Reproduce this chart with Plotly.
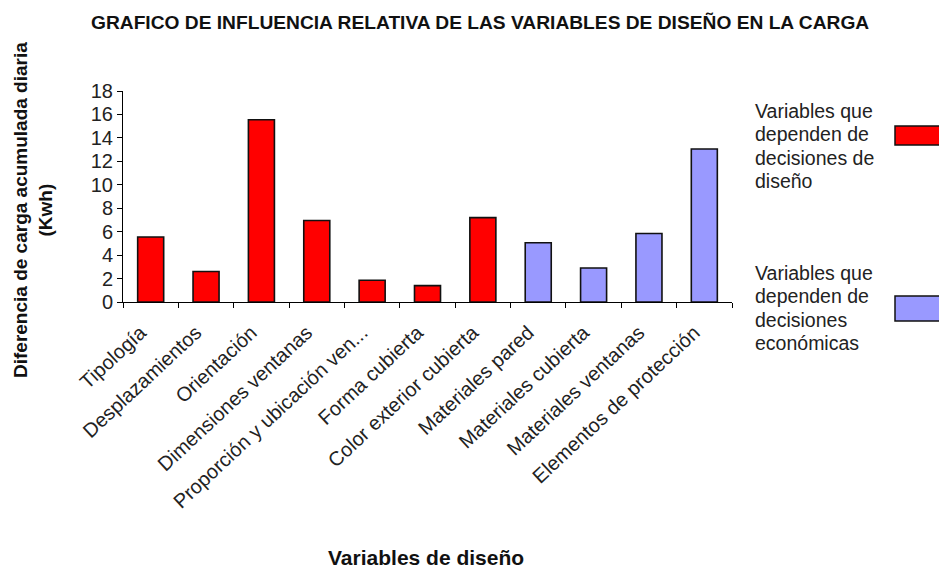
import plotly.graph_objects as go

# Design variables and their daily accumulated load difference (kWh)
categorias = [
    "Tipología",
    "Desplazamientos",
    "Orientación",
    "Dimensiones ventanas",
    "Proporción y ubicación ven...",
    "Forma cubierta",
    "Color exterior cubierta",
    "Materiales pared",
    "Materiales cubierta",
    "Materiales ventanas",
    "Elementos de protección",
]
valores = [5.55, 2.6, 15.55, 6.95, 1.85, 1.4, 7.2, 5.05, 2.9, 5.85, 13.05]

# Group membership: first seven depend on design decisions, rest on economic ones
grupo_diseno = categorias[:7]
valores_diseno = valores[:7]
grupo_economico = categorias[7:]
valores_economico = valores[7:]

leyenda_diseno = ["Variables que", "dependen de", "decisiones de", "diseño"]
leyenda_economico = ["Variables que", "dependen de", "decisiones", "económicas"]

titulo = "GRAFICO DE INFLUENCIA RELATIVA DE LAS VARIABLES DE DISEÑO EN LA CARGA"
titulo_y = "Diferencia de carga acumulada diaria<br>(Kwh)"
titulo_x = "Variables de diseño"

ROJO = "#ff0000"
LILA = "#9999ff"
BORDE = "#111111"
TEXTO = "#222222"
FUENTE = "Liberation Sans, Arial, sans-serif"

fig = go.Figure()
fig.add_trace(go.Bar(
    x=grupo_diseno, y=valores_diseno, width=0.47,
    marker=dict(color=ROJO, line=dict(color=BORDE, width=1.6)),
    showlegend=False,
))
fig.add_trace(go.Bar(
    x=grupo_economico, y=valores_economico, width=0.47,
    marker=dict(color=LILA, line=dict(color=BORDE, width=1.6)),
    showlegend=False,
))

W, H = 939, 572
L, R, T, B = 123, 207, 91, 270
PW, PH = W - L - R, H - T - B

fig.update_layout(
    width=W, height=H,
    margin=dict(l=L, r=R, t=T, b=B, pad=0),
    paper_bgcolor="white", plot_bgcolor="white",
    barmode="overlay",
    font=dict(family=FUENTE, color=TEXTO),
)
fig.update_xaxes(
    type="category", categoryorder="array", categoryarray=categorias,
    range=[-0.5, len(categorias) - 0.5],
    showline=True, linecolor="black", linewidth=1,
    ticks="outside", tickson="boundaries", ticklen=5, tickcolor="black",
    tickangle=-43, tickfont=dict(size=20, color=TEXTO),
    ticklabelstandoff=10, ticklabelshift=-10,
    showgrid=False, zeroline=False,
)
fig.update_yaxes(
    range=[0, 18], dtick=2, tick0=0,
    showline=True, linecolor="black", linewidth=1,
    ticks="outside", ticklen=5, tickcolor="black",
    tickfont=dict(size=20, color=TEXTO),
    showgrid=False, zeroline=False,
)

# Convert page pixel positions to paper coordinates (paper = plot area)
def px_x(p):
    return (p - L) / PW

def px_y(p):
    return (H - B - p) / PH

anotaciones = [
    dict(text="<b>" + titulo + "</b>", x=px_x(480), y=px_y(22),
         font=dict(size=19.2, color="#111111")),
    dict(text="<b>" + titulo_y + "</b>", x=px_x(33), y=px_y(210), textangle=-90,
         font=dict(size=19, color="#111111")),
    dict(text="<b>" + titulo_x + "</b>", x=px_x(426), y=px_y(557),
         font=dict(size=21, color="#111111")),
]
for i, linea in enumerate(leyenda_diseno):
    anotaciones.append(dict(text=linea, x=px_x(753), y=px_y(111 + 23.3 * i), xanchor="left",
                            font=dict(size=19.5, color=TEXTO)))
for i, linea in enumerate(leyenda_economico):
    anotaciones.append(dict(text=linea, x=px_x(753), y=px_y(273 + 23.3 * i), xanchor="left",
                            font=dict(size=19.5, color=TEXTO)))
for a in anotaciones:
    a.update(xref="paper", yref="paper", showarrow=False)
    a.setdefault("xanchor", "center")
    a.setdefault("yanchor", "middle")
fig.update_layout(annotations=anotaciones)

# Legend swatches
fig.update_layout(shapes=[
    dict(type="rect", xref="paper", yref="paper",
         x0=px_x(895), x1=px_x(945), y0=px_y(126), y1=px_y(145),
         fillcolor=ROJO, line=dict(color=BORDE, width=1.5)),
    dict(type="rect", xref="paper", yref="paper",
         x0=px_x(895), x1=px_x(945), y0=px_y(296), y1=px_y(321),
         fillcolor=LILA, line=dict(color=BORDE, width=1.5)),
])

fig.write_html("out.html")
